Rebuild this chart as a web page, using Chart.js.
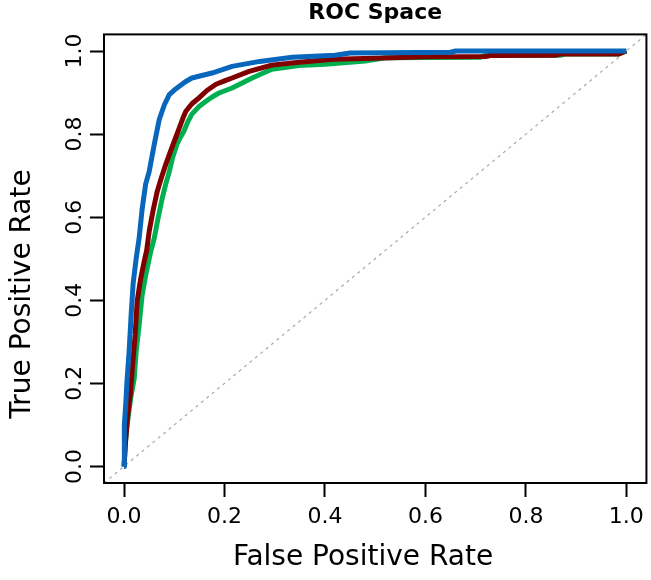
<!DOCTYPE html>
<html><head><meta charset="utf-8">
<script src="https://cdn.jsdelivr.net/npm/chart.js@4.4.1/dist/chart.umd.min.js"></script>
<style>html,body{margin:0;padding:0;background:#fff;}</style>
</head><body>
<canvas id="c" width="651" height="580"></canvas>
<script>
const chartTitle = 'ROC Space';
const xTitle = 'False Positive Rate';
const yTitle = 'True Positive Rate';
const tickValues = [0, 0.2, 0.4, 0.6, 0.8, 1.0];
const tickLabels = ['0.0', '0.2', '0.4', '0.6', '0.8', '1.0'];

const blueFPR = [0, 0, 0.001, 0.003, 0.006, 0.010, 0.014, 0.018, 0.021, 0.024, 0.030, 0.036, 0.043, 0.050, 0.060, 0.070, 0.080, 0.090, 0.100, 0.110, 0.122, 0.135, 0.155, 0.175, 0.215, 0.270, 0.335, 0.420, 0.450, 0.650, 0.660, 1.0];
const blueTPR = [0, 0.05, 0.10, 0.144, 0.21, 0.276, 0.365, 0.44, 0.47, 0.50, 0.55, 0.62, 0.68, 0.71, 0.775, 0.835, 0.87, 0.895, 0.906, 0.915, 0.926, 0.935, 0.941, 0.947, 0.963, 0.975, 0.985, 0.99, 0.995, 0.997, 1.0, 1.0];

const redFPR = [0, 0.003, 0.007, 0.013, 0.017, 0.022, 0.026, 0.033, 0.040, 0.045, 0.050, 0.058, 0.066, 0.075, 0.083, 0.092, 0.100, 0.110, 0.117, 0.123, 0.135, 0.149, 0.165, 0.183, 0.200, 0.215, 0.249, 0.294, 0.348, 0.417, 0.517, 0.600, 0.720, 0.730, 0.860, 0.870, 0.985, 1.0];
const redTPR = [0, 0.06, 0.12, 0.18, 0.245, 0.317, 0.397, 0.452, 0.493, 0.52, 0.566, 0.618, 0.662, 0.698, 0.727, 0.757, 0.783, 0.815, 0.838, 0.855, 0.873, 0.887, 0.905, 0.92, 0.928, 0.935, 0.951, 0.966, 0.973, 0.98, 0.983, 0.986, 0.987, 0.989, 0.99, 0.993, 0.993, 1.0];

const greenFPR = [0, 0.002, 0.006, 0.013, 0.020, 0.024, 0.030, 0.036, 0.043, 0.053, 0.060, 0.068, 0.076, 0.083, 0.090, 0.097, 0.105, 0.112, 0.119, 0.127, 0.135, 0.148, 0.163, 0.176, 0.189, 0.215, 0.255, 0.294, 0.348, 0.400, 0.480, 0.520, 0.710, 0.720, 0.870, 0.880, 0.985, 1.0];
const greenTPR = [0, 0.05, 0.10, 0.163, 0.21, 0.276, 0.341, 0.413, 0.46, 0.517, 0.549, 0.600, 0.646, 0.68, 0.71, 0.745, 0.775, 0.792, 0.807, 0.83, 0.848, 0.865, 0.879, 0.89, 0.899, 0.911, 0.935, 0.956, 0.965, 0.968, 0.976, 0.984, 0.985, 0.99, 0.99, 0.993, 0.993, 1.0];

const diagX = [-0.04, 1.04];
const diagY = [-0.04, 1.04];

const toPts = (xs, ys) => xs.map((x, i) => ({x: x, y: ys[i]}));

const boxPlugin = {
  id: 'box',
  afterDatasetsDraw(chart) {
    const a = chart.chartArea, ctx = chart.ctx;
    ctx.save();
    ctx.strokeStyle = '#000';
    ctx.lineWidth = 2;
    ctx.strokeRect(a.left, a.top, a.right - a.left, a.bottom - a.top);
    ctx.restore();
  }
};

const axisTitlePlugin = {
  id: 'axisTitles',
  afterDraw(chart) {
    const ctx = chart.ctx;
    ctx.save();
    ctx.fillStyle = '#000';
    ctx.font = '28px "DejaVu Sans"';
    ctx.textAlign = 'center';
    ctx.textBaseline = 'alphabetic';
    ctx.fillText(xTitle, 363, 565);
    ctx.translate(30, 294);
    ctx.rotate(-Math.PI / 2);
    ctx.fillText(yTitle, 0, 0);
    ctx.restore();
  }
};

const setTicks = (scale) => { scale.ticks = tickValues.map(v => ({value: v})); };
const tickFont = {family: 'DejaVu Sans', size: 22};

new Chart(document.getElementById('c'), {
  type: 'scatter',
  data: {
    datasets: [
      {data: toPts(blueFPR, blueTPR), borderColor: '#0866BD', borderWidth: 5, showLine: true, pointRadius: 0, borderJoinStyle: 'round'},
      {data: toPts(redFPR, redTPR), borderColor: '#800000', borderWidth: 5, showLine: true, pointRadius: 0, borderJoinStyle: 'round'},
      {data: toPts(greenFPR, greenTPR), borderColor: '#00B050', borderWidth: 5, showLine: true, pointRadius: 0, borderJoinStyle: 'round'},
      {data: toPts(diagX, diagY), borderColor: '#A8A8A8', borderWidth: 1.2, borderDash: [3, 4], showLine: true, pointRadius: 0}
    ]
  },
  options: {
    responsive: false,
    animation: false,
    devicePixelRatio: 1,
    layout: {padding: {left: 0, right: 4, top: 0, bottom: 0}},
    plugins: {
      legend: {display: false},
      tooltip: {enabled: false},
      title: {display: true, text: chartTitle, fullSize: false, color: '#000',
              font: {family: 'DejaVu Sans', size: 22, weight: 'bold'}, padding: {top: 0, bottom: 8}}
    },
    scales: {
      x: {
        type: 'linear', min: -0.04, max: 1.04,
        afterBuildTicks: setTicks,
        afterFit: (s) => { s.height = 97; },
        grid: {drawOnChartArea: false, drawTicks: true, tickLength: 14, tickColor: '#000', tickWidth: 2},
        border: {display: false},
        ticks: {color: '#000', font: tickFont, padding: 7, maxRotation: 0, autoSkip: false,
                callback: (v, i) => tickLabels[i]}
      },
      y: {
        type: 'linear', min: -0.04, max: 1.04,
        afterBuildTicks: setTicks,
        afterFit: (s) => { s.width = 104; },
        grid: {drawOnChartArea: false, drawTicks: true, tickLength: 14, tickColor: '#000', tickWidth: 2},
        border: {display: false},
        ticks: {color: '#000', font: tickFont, padding: -3, minRotation: 90, maxRotation: 90, crossAlign: 'center', autoSkip: false,
                callback: (v, i) => tickLabels[i]}
      }
    }
  },
  plugins: [boxPlugin, axisTitlePlugin]
});
</script>
</body></html>
